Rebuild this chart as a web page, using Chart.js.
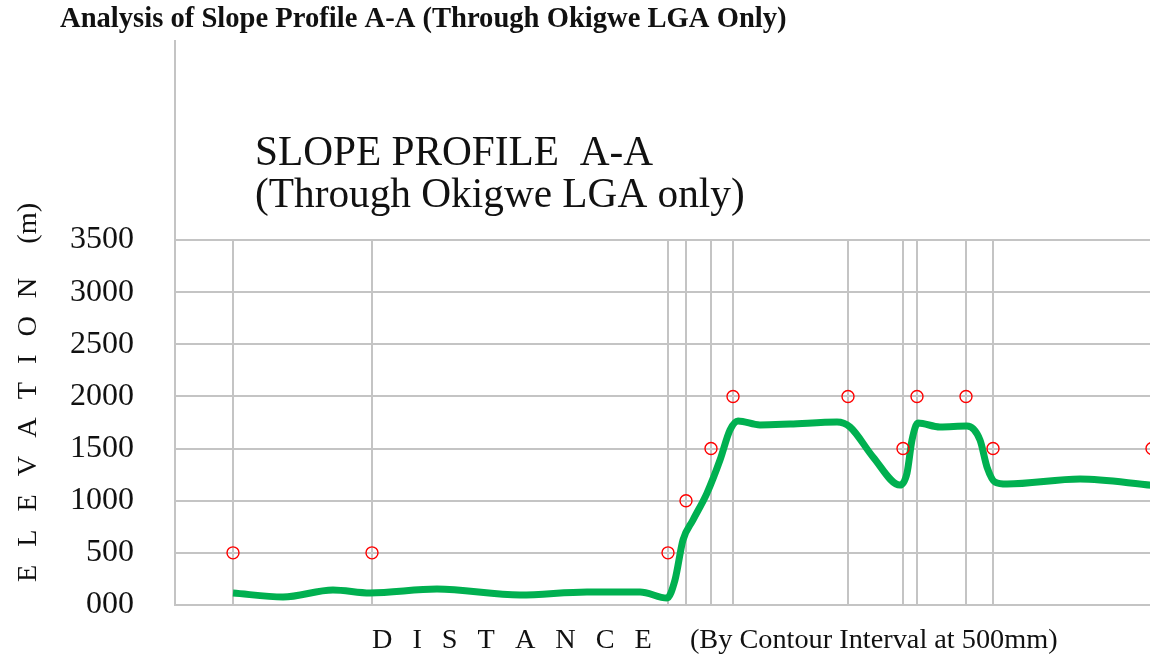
<!DOCTYPE html>
<html>
<head>
<meta charset="utf-8">
<script src="https://cdn.jsdelivr.net/npm/chart.js@4.4.1/dist/chart.umd.min.js"></script>
<style>
    html, body { margin: 0; padding: 0; background: #ffffff; overflow: hidden; }
    #contenedor { position: relative; width: 1160px; height: 656px; }
</style>
</head>
<body>
<div id="contenedor">
    <canvas id="myChart" width="1160" height="656"></canvas>
</div>
<script>
// Puntos de contorno (distancia, elevacion)
var distContorno = [58, 197, 493, 511, 536, 558, 673, 728, 742, 791, 818, 977];
var elevContorno = [500, 500, 500, 1000, 1500, 2000, 2000, 1500, 2000, 2000, 1500, 1500];

// Perfil suavizado (linea verde)
var distPerfil = [58, 108, 158, 195, 262, 345, 412, 465, 492, 500, 508, 518, 532, 545, 555, 563, 585, 615, 662, 675, 698, 725, 732, 737, 743, 765, 792, 805, 812, 820, 832, 905, 977];
var elevPerfil = [115, 77, 144, 115, 153, 96, 125, 125, 67, 240, 623, 815, 1073, 1390, 1678, 1765, 1726, 1735, 1755, 1707, 1420, 1150, 1265, 1582, 1745, 1707, 1716, 1582, 1323, 1179, 1160, 1208, 1148];

// Etiquetas del eje Y
var valoresY = [0, 500, 1000, 1500, 2000, 2500, 3000, 3500];
var etiquetasY = ['000', '500', '1000', '1500', '2000', '2500', '3000', '3500'];

var tituloPrincipal = 'Analysis of Slope Profile A-A (Through Okigwe LGA Only)';
var tituloInterno = ['SLOPE PROFILE  A-A', '(Through Okigwe LGA only)'];
var tituloEjeY = 'ELEVATION';
var unidadEjeY = '(m)';
var tituloEjeX = 'DISTANCE';
var notaEjeX = '(By Contour Interval at 500mm)';

var colorGrid = '#c4c4c4';
var fuente = "'Liberation Serif', 'Times New Roman', serif";

function textoEspaciado(ctx, texto, x, y, extra) {
    for (var i = 0; i < texto.length; i++) {
        ctx.fillText(texto[i], x, y);
        x += ctx.measureText(texto[i]).width + extra;
    }
    return x;
}

var pluginTextos = {
    id: 'textos',
    beforeDatasetsDraw: function (chart) {
        var ctx = chart.ctx;
        var area = chart.chartArea;
        ctx.save();
        // linea del eje que sube por encima de 3500
        ctx.strokeStyle = colorGrid;
        ctx.lineWidth = 2;
        ctx.beginPath();
        ctx.moveTo(area.left, 40);
        ctx.lineTo(area.left, area.top);
        ctx.stroke();
        ctx.restore();
    },
    afterDraw: function (chart) {
        var ctx = chart.ctx;
        ctx.save();
        ctx.fillStyle = '#111111';
        ctx.textAlign = 'left';
        ctx.textBaseline = 'alphabetic';

        // titulo superior
        ctx.font = 'bold 28.6px ' + fuente;
        ctx.fillText(tituloPrincipal, 60, 27);

        // titulo dentro del grafico
        ctx.font = '41.3px ' + fuente;
        ctx.fillText(tituloInterno[0], 255, 165);
        ctx.fillText(tituloInterno[1], 255, 207);

        // titulo eje X
        ctx.font = '28.3px ' + fuente;
        var xFin = textoEspaciado(ctx, tituloEjeX, 372, 648, 20);
        ctx.fillText(notaEjeX, xFin + 18, 648);

        // titulo eje Y (rotado)
        ctx.translate(36, 582);
        ctx.rotate(-Math.PI / 2);
        var yFin = textoEspaciado(ctx, tituloEjeY, 0, 0, 18);
        ctx.fillText(unidadEjeY, yFin + 16, 0);
        ctx.restore();
    }
};

var ctx = document.getElementById('myChart').getContext('2d');

var myChart = new Chart(ctx, {
    type: 'line',
    data: {
        datasets: [
            {
                label: 'Perfil',
                data: distPerfil.map(function (d, i) { return { x: d, y: elevPerfil[i] }; }),
                borderColor: '#00b050',
                borderWidth: 7,
                pointRadius: 0,
                cubicInterpolationMode: 'monotone',
                fill: false,
                order: 2
            },
            {
                label: 'Contorno',
                type: 'scatter',
                data: distContorno.map(function (d, i) { return { x: d, y: elevContorno[i] }; }),
                showLine: false,
                pointStyle: 'circle',
                pointRadius: 6,
                borderColor: '#ff0000',
                borderWidth: 1.4,
                backgroundColor: 'rgba(0,0,0,0)',
                clip: false,
                order: 1
            }
        ]
    },
    options: {
        responsive: false,
        animation: false,
        devicePixelRatio: 1,
        layout: {
            padding: { top: 240, right: 8, left: 0, bottom: 0 }
        },
        plugins: {
            legend: { display: false },
            tooltip: { enabled: false },
            title: { display: false }
        },
        scales: {
            x: {
                type: 'linear',
                min: 0,
                max: 977,
                afterBuildTicks: function (scale) {
                    scale.ticks = distContorno.map(function (d) { return { value: d }; });
                },
                afterFit: function (scale) { scale.height = 51; },
                ticks: { display: false },
                grid: { color: colorGrid, lineWidth: 2, drawTicks: false },
                border: { color: colorGrid, width: 2 }
            },
            y: {
                min: 0,
                max: 3500,
                afterBuildTicks: function (scale) {
                    scale.ticks = valoresY.map(function (v) { return { value: v }; });
                },
                afterFit: function (scale) {
                    scale.width = 175;
                    scale.paddingTop = 0;
                    scale.paddingBottom = 0;
                },
                ticks: {
                    padding: 41,
                    color: '#111111',
                    font: { family: fuente, size: 32 },
                    callback: function (v) {
                        var i = valoresY.indexOf(v);
                        return i >= 0 ? etiquetasY[i] : '';
                    }
                },
                grid: { color: colorGrid, lineWidth: 2, drawTicks: false },
                border: { color: colorGrid, width: 2 }
            }
        }
    },
    plugins: [pluginTextos]
});
</script>
</body>
</html>
